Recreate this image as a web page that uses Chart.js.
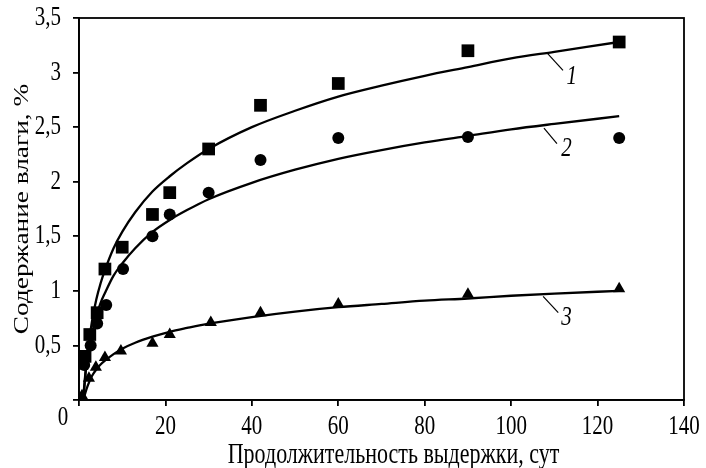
<!DOCTYPE html>
<html>
<head>
<meta charset="utf-8">
<script src="https://cdn.jsdelivr.net/npm/chart.js@4"></script>
<style>
  html, body { margin: 0; padding: 0; background: #fff; }
  #wrap { width: 706px; height: 468px; }
</style>
</head>
<body>
<div id="wrap"><canvas id="chart" width="706" height="468"></canvas></div>
<script>
// measured points (days, moisture %)
const sqDays    = [1.4, 2.5, 4.2, 6, 10, 17, 21, 30, 42, 60, 90, 125];
const sqMoist   = [0.4, 0.6, 0.8, 1.2, 1.4, 1.7, 1.9, 2.3, 2.7, 2.9, 3.2, 3.28];
const circDays  = [1.2, 2.7, 4.2, 6.3, 10.2, 17, 21, 30, 42, 60, 90, 125];
const circMoist = [0.32, 0.5, 0.7, 0.87, 1.2, 1.5, 1.7, 1.9, 2.2, 2.4, 2.41, 2.4];
const triDays   = [0.7, 2.3, 3.9, 6, 9.7, 17, 21, 30.5, 42, 60, 90, 125];
const triMoist  = [0.04, 0.2, 0.3, 0.39, 0.45, 0.52, 0.6, 0.71, 0.8, 0.88, 0.97, 1.02];

// fitted curves
const fitDays = [1, 1.5, 2, 3, 4, 5, 6, 8, 10, 13, 17, 21, 25, 30, 40, 50, 60, 70, 80, 90, 100, 110, 125];
const fit1 = [0.0, 0.24, 0.44, 0.72, 0.92, 1.07, 1.19, 1.39, 1.54, 1.72, 1.91, 2.05, 2.17, 2.3, 2.5, 2.65, 2.78, 2.88, 2.97, 3.05, 3.13, 3.19, 3.28];
const fit2 = [0.03, 0.25, 0.4, 0.61, 0.77, 0.89, 0.98, 1.14, 1.25, 1.39, 1.54, 1.65, 1.74, 1.84, 1.99, 2.11, 2.21, 2.29, 2.36, 2.42, 2.48, 2.53, 2.6];
const fit3 = [0.0, 0.07, 0.13, 0.22, 0.28, 0.325, 0.36, 0.42, 0.47, 0.525, 0.58, 0.625, 0.66, 0.7, 0.76, 0.81, 0.85, 0.88, 0.91, 0.93, 0.955, 0.975, 1.0];

const curveNames = ['1', '2', '3'];

const xTicks = [0, 20, 40, 60, 80, 100, 120, 140];
const yTicks = [0, 0.5, 1, 1.5, 2, 2.5, 3, 3.5];

const xTitle = 'Продолжительность выдержки, сут';
const yTitle = 'Содержание влаги, %';

const FONT = '"Liberation Serif", "DejaVu Serif", serif';
const STRETCH = 1.3;   // the original lettering is tall and narrow

const pts = (xs, ys) => xs.map((x, i) => ({ x, y: ys[i] }));

// leader lines for the curve numbers, in data units
const leaders = [
    { from: [108.3, 3.18], to: [112, 3.02], at: [114, 2.96] },
    { from: [107.6, 2.49], to: [110.6, 2.35], at: [112.8, 2.3] },
    { from: [107.4, 0.95], to: [110.9, 0.8], at: [112.8, 0.75] }
];

function tallText(ctx, text, x, y, align, rotated) {
    ctx.save();
    ctx.translate(x, y);
    if (rotated) { ctx.rotate(-Math.PI / 2); ctx.scale(STRETCH, 1); }
    else ctx.scale(1, STRETCH);
    ctx.textAlign = align;
    ctx.textBaseline = 'middle';
    ctx.fillText(text, 0, 0);
    ctx.restore();
}

const frame = {
    id: 'frame',
    afterDraw(chart) {
        const { ctx, chartArea: a, scales: { x, y } } = chart;
        ctx.save();
        ctx.strokeStyle = '#000';
        ctx.fillStyle = '#000';
        ctx.lineWidth = 1.8;
        ctx.strokeRect(a.left, a.top, a.right - a.left, a.bottom - a.top);

        // tick labels
        ctx.font = '21px ' + FONT;
        yTicks.forEach(v => {
            if (v === 0) return;
            tallText(ctx, String(v).replace('.', ','), a.left - 18, y.getPixelForValue(v), 'right');
        });
        xTicks.forEach(v => {
            if (v === 0) return;
            tallText(ctx, String(v), x.getPixelForValue(v), a.bottom + 27, 'center');
        });
        tallText(ctx, '0', a.left - 16, a.bottom + 18, 'center');

        // axis titles
        ctx.font = '22px ' + FONT;
        tallText(ctx, xTitle, (a.left + a.right) / 2 + 12, a.bottom + 55, 'center');
        ctx.font = '21px ' + FONT;
        tallText(ctx, yTitle, 22, (a.top + a.bottom) / 2, 'center', true);

        // curve numbers
        ctx.lineWidth = 1.2;
        ctx.font = 'italic 21px ' + FONT;
        leaders.forEach((l, i) => {
            ctx.beginPath();
            ctx.moveTo(x.getPixelForValue(l.from[0]), y.getPixelForValue(l.from[1]));
            ctx.lineTo(x.getPixelForValue(l.to[0]), y.getPixelForValue(l.to[1]));
            ctx.stroke();
            tallText(ctx, curveNames[i], x.getPixelForValue(l.at[0]), y.getPixelForValue(l.at[1]), 'center');
        });
        ctx.restore();
    }
};

const curveStyle = {
    showLine: true, pointRadius: 0, borderColor: '#000', borderWidth: 2.3,
    cubicInterpolationMode: 'monotone', fill: false
};
const markStyle = { showLine: false, backgroundColor: '#000', borderColor: '#000', borderWidth: 0 };

new Chart(document.getElementById('chart'), {
    type: 'scatter',
    data: {
        datasets: [
            { ...curveStyle, data: pts(fitDays, fit1) },
            { ...curveStyle, data: pts(fitDays, fit2) },
            { ...curveStyle, data: pts(fitDays, fit3) },
            { ...markStyle, data: pts(sqDays, sqMoist), pointStyle: 'rect', pointRadius: 9 },
            { ...markStyle, data: pts(circDays, circMoist), pointStyle: 'circle', pointRadius: 6 },
            { ...markStyle, data: pts(triDays, triMoist), pointStyle: 'triangle', pointRadius: 7 }
        ]
    },
    options: {
        responsive: false,
        animation: false,
        layout: { padding: { top: 18, right: 22, left: 0, bottom: 0 } },
        plugins: { legend: { display: false }, tooltip: { enabled: false } },
        scales: {
            x: {
                type: 'linear', min: 0, max: 140,
                afterBuildTicks: s => { s.ticks = xTicks.map(v => ({ value: v })); },
                afterFit: s => { s.height = 68; },
                border: { display: true, color: '#000', width: 1.8 },
                grid: { drawOnChartArea: false, tickLength: 6, color: '#000', lineWidth: 1.8 },
                ticks: { display: false }
            },
            y: {
                type: 'linear', min: 0, max: 3.5,
                afterBuildTicks: s => { s.ticks = yTicks.map(v => ({ value: v })); },
                afterFit: s => { s.width = 79; },
                border: { display: true, color: '#000', width: 1.8 },
                grid: { drawOnChartArea: false, tickLength: 6, color: '#000', lineWidth: 1.8 },
                ticks: { display: false }
            }
        }
    },
    plugins: [frame]
});
</script>
</body>
</html>
